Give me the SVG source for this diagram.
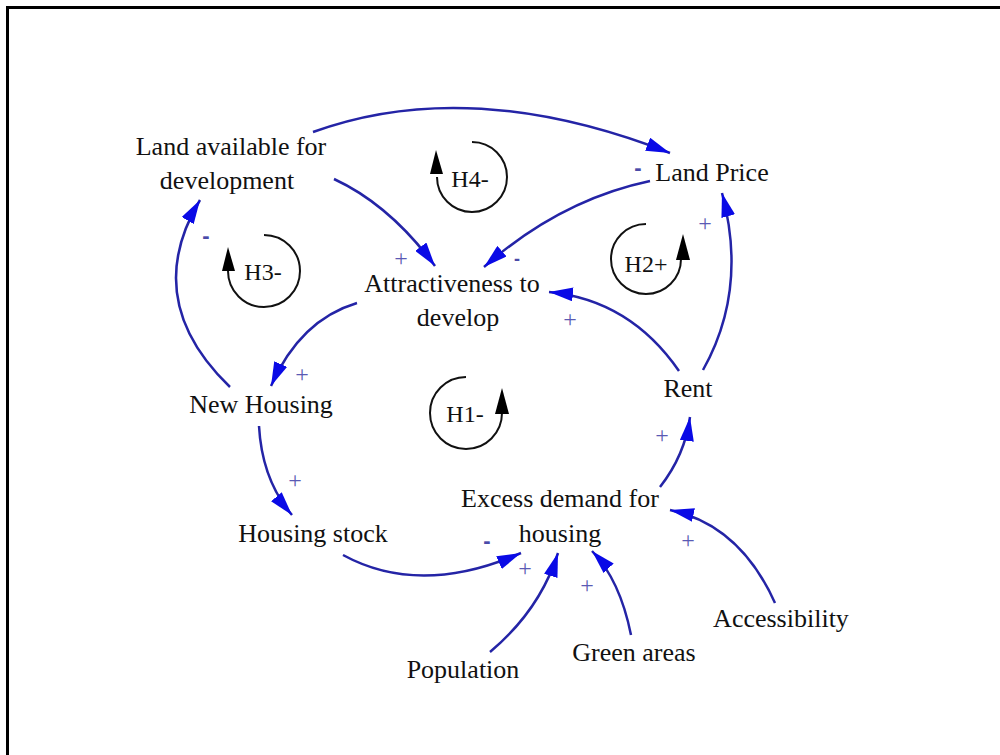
<svg xmlns="http://www.w3.org/2000/svg" width="1000" height="755" viewBox="0 0 1000 755">
<defs>
<marker id="ah" viewBox="0 0 24 14" refX="24" refY="7" markerWidth="24" markerHeight="14" markerUnits="userSpaceOnUse" orient="auto">
<path d="M0,0 L24,7 L0,14 Z" fill="#0a0ae6"/>
</marker>
<style>
.lbl{font-family:"Liberation Serif","Times New Roman",Times,"DejaVu Serif",serif;font-size:26px;fill:#111;text-anchor:middle}
.loop{font-family:"Liberation Serif","Times New Roman",Times,"DejaVu Serif",serif;font-size:24px;fill:#111;text-anchor:middle}
.sg{font-family:"Liberation Serif","Times New Roman",serif;font-size:24px;fill:#5a5ab4;text-anchor:middle}
.mn{font-family:"Liberation Sans",Arial,sans-serif;font-size:22px;font-weight:bold;fill:#4a4aa8;text-anchor:middle}
.mns{font-family:"Liberation Sans",Arial,sans-serif;font-size:18px;font-weight:bold;fill:#4a4aa8;text-anchor:middle}
.cn{fill:none;stroke:#2424a6;stroke-width:2.5;marker-end:url(#ah)}
.arc{fill:none;stroke:#111;stroke-width:2}
.ltip{fill:#000}
</style>
</defs>
<rect x="7.5" y="7.5" width="1000" height="1000" fill="#fff" stroke="#000" stroke-width="3"/>

<g id="connectors">
<path class="cn" d="M313,132 Q470,75 670,153"/>
<path class="cn" d="M334,179 Q390,205 435,266"/>
<path class="cn" d="M650,181 Q560,200 484,267"/>
<path class="cn" d="M679,371 Q630,300 549,292"/>
<path class="cn" d="M703,370 Q748,290 722,193"/>
<path class="cn" d="M357,303 Q300,320 271,386"/>
<path class="cn" d="M230,387 Q140,300 200,200"/>
<path class="cn" d="M259,426 Q262,480 292,515"/>
<path class="cn" d="M343,555 Q420,597 521,553"/>
<path class="cn" d="M490,652 Q540,610 558,553"/>
<path class="cn" d="M631,635 Q620,580 592,551"/>
<path class="cn" d="M775,603 Q740,525 670,510"/>
<path class="cn" d="M660,487 Q685,455 690,417"/>
</g>

<g id="signs">
<text class="mn" x="638" y="175">-</text>
<text class="sg" x="401" y="266">+</text>
<text class="mns" x="517" y="265">-</text>
<text class="mn" x="206" y="243">-</text>
<text class="sg" x="705" y="231">+</text>
<text class="sg" x="570" y="327">+</text>
<text class="sg" x="302" y="382">+</text>
<text class="sg" x="295" y="488">+</text>
<text class="sg" x="662" y="443">+</text>
<text class="mn" x="487" y="548">-</text>
<text class="sg" x="525" y="576">+</text>
<text class="sg" x="587" y="593">+</text>
<text class="sg" x="688" y="548">+</text>
</g>

<g id="node-land-available">
<text class="lbl" x="231" y="155">Land available for</text>
<text class="lbl" x="227" y="189">development</text>
</g>
<g id="node-land-price"><text class="lbl" x="712" y="181">Land Price</text></g>
<g id="node-attractiveness">
<text class="lbl" x="452" y="292">Attractiveness to</text>
<text class="lbl" x="458" y="326">develop</text>
</g>
<g id="node-new-housing"><text class="lbl" x="261" y="413">New Housing</text></g>
<g id="node-rent"><text class="lbl" x="688" y="397">Rent</text></g>
<g id="node-housing-stock"><text class="lbl" x="313" y="542">Housing stock</text></g>
<g id="node-excess-demand">
<text class="lbl" x="560" y="507">Excess demand for</text>
<text class="lbl" x="560" y="542">housing</text>
</g>
<g id="node-accessibility"><text class="lbl" x="781" y="627">Accessibility</text></g>
<g id="node-green-areas"><text class="lbl" x="634" y="661">Green areas</text></g>
<g id="node-population"><text class="lbl" x="463" y="678">Population</text></g>

<g id="loop-h4">
<path class="arc" d="M472,142 A35,35 0 1 1 437,177"/>
<path class="ltip" d="M436,150 L430,174 L443,174 Z"/>
<text class="loop" x="470" y="187">H4-</text>
</g>
<g id="loop-h3">
<path class="arc" d="M264,235 A36,36 0 1 1 228,271"/>
<path class="ltip" d="M228,247 L222,271 L235,271 Z"/>
<text class="loop" x="263" y="280">H3-</text>
</g>
<g id="loop-h2">
<path class="arc" d="M646,224 A35,35 0 1 0 681,259"/>
<path class="ltip" d="M683,234 L676,260 L690,260 Z"/>
<text class="loop" x="646" y="272">H2+</text>
</g>
<g id="loop-h1">
<path class="arc" d="M466,377 A36,36 0 1 0 502,413"/>
<path class="ltip" d="M502,388 L495,414 L509,414 Z"/>
<text class="loop" x="465" y="422">H1-</text>
</g>
</svg>
